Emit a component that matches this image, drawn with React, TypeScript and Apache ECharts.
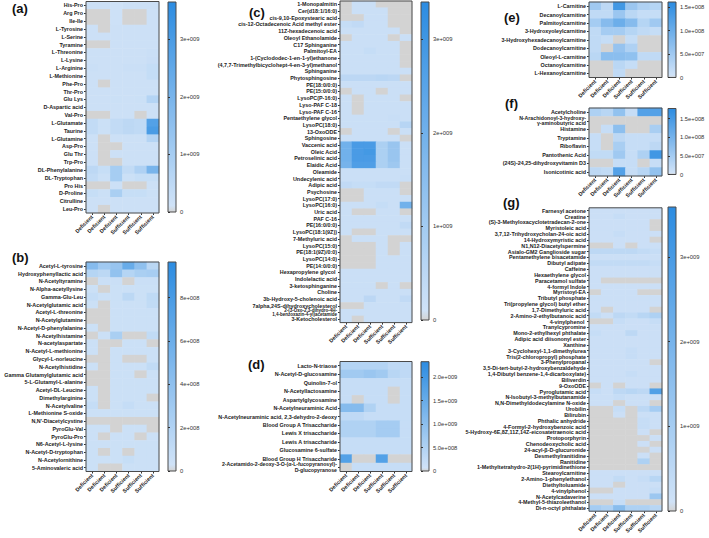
import { useEffect, useRef } from "react";
import * as echarts from "echarts";

// Sample groups (columns of every heatmap)
const COLS = ["Deficient", "Deficient", "Deficient", "Sufficient", "Sufficient", "Sufficient"];

// (a) amino acids & dipeptides, values in units of 1e8
const aRows = ["His-Pro", "Arg Pro", "Ile-Ile", "L-Tyrosine", "L-Serine", "Tyramine", "L-Threonine", "L-Lysine", "L-Arginine", "L-Methionine", "Phe-Pro", "Thr-Pro", "Glu Lys", "D-Aspartic acid", "Val-Pro", "L-Glutamate", "Taurine", "L-Glutamine", "Asp-Pro", "Glu Thr", "Trp-Pro", "DL-Phenylalanine", "DL-Tryptophan", "Pro His", "D-Proline", "Citrulline", "Leu-Pro"];
const aValues = [
  [1.8, 1.8, 1.2, 1.8, 1.8, 1.8],
  [0, 0, 1.5, 0, 0, 1.8],
  [0, 0, 1.5, 0, 0, 1.8],
  [1.8, 0, 1.8, 1.8, 1.8, 1.8],
  [1.8, 1.8, 1.8, 1.8, 1.8, 1.8],
  [0, 0, 1.8, 1.8, 1.8, 1.8],
  [1.8, 1.8, 1.8, 1.8, 1.8, 2.2],
  [1.8, 1.8, 1.8, 1.8, 1.8, 2.5],
  [2.2, 1.8, 1.8, 2.2, 2.2, 3.5],
  [1.8, 1.8, 1.8, 1.8, 1.8, 3.5],
  [1.8, 0, 1.8, 1.8, 1.8, 1.8],
  [1.8, 1.8, 1.8, 1.8, 1.8, 1.8],
  [1.8, 1.8, 2, 1.8, 2, 7],
  [1.8, 1.8, 1.8, 1.8, 1.8, 1.8],
  [0, 0, 1.8, 1.8, 0, 1.8],
  [4, 2, 4, 5, 4.5, 28],
  [4, 2, 4, 5, 4.5, 30],
  [1.8, 0, 1.8, 1.8, 1.8, 7],
  [1.8, 0, 0, 1.8, 1.8, 1.8],
  [1.8, 0, 1.8, 1.8, 1.8, 1.8],
  [1.8, 0, 0, 1.8, 1.8, 1.8],
  [5, 3, 10, 4, 8, 20],
  [4, 2, 10, 2, 3, 3],
  [0, 0, 1.8, 0, 0, 1.8],
  [3, 2, 9, 3, 3, 2],
  [1.8, 1.8, 1.8, 1.8, 1.8, 1.8],
  [1.8, 0, 1.8, 1.8, 1.8, 1.8],
];

// (b) acetylated / modified amino acids, units of 1e7
const bRows = ["Acetyl-L-tyrosine", "Hydroxyphenyllactic acid", "N-Acetyltyramine", "N-Alpha-acetyllysine", "Gamma-Glu-Leu", "N-Acetylglutamic acid", "Acetyl-L-threonine", "N-Acetylglutamine", "N-Acetyl-D-phenylalanine", "N-Acetylhistamine", "N-acetylaspartate", "N-Acetyl-L-methionine", "Glycyl-L-norleucine", "N-Acetylhistidine", "Gamma Glutamylglutamic acid", "5-L-Glutamyl-L-alanine", "Acetyl-DL-Leucine", "Dimethylarginine", "N-Acetylvaline", "L-Methionine S-oxide", "N,N'-Diacetylcystine", "PyroGlu-Val", "PyroGlu-Pro", "N6-Acetyl-L-lysine", "N-Acetyl-D-tryptophan", "N-Acetylornithine", "5-Aminovaleric acid"];
const bValues = [
  [45, 30, 35, 62, 40, 15],
  [18, 14, 38, 18, 24, 26],
  [0, 6, 6, 0, 6, 6],
  [5, 0, 5, 5, 5, 5],
  [9, 5, 5, 14, 5, 12],
  [5, 0, 5, 5, 5, 11],
  [0, 0, 5, 5, 5, 5],
  [0, 0, 5, 5, 5, 5],
  [5, 0, 5, 5, 5, 5],
  [0, 5, 24, 0, 0, 11],
  [5, 0, 0, 5, 5, 0],
  [5, 0, 5, 5, 5, 5],
  [0, 0, 5, 0, 0, 5],
  [5, 0, 5, 5, 5, 11],
  [0, 0, 5, 5, 0, 5],
  [0, 0, 5, 5, 5, 5],
  [5, 0, 5, 5, 5, 5],
  [5, 0, 5, 5, 5, 0],
  [9, 0, 5, 9, 5, 5],
  [5, 5, 5, 5, 5, 5],
  [0, 0, 0, 0, 0, 0],
  [5, 5, 0, 5, 5, 0],
  [5, 0, 5, 5, 0, 5],
  [5, 5, 5, 5, 5, 5],
  [5, 0, 5, 0, 5, 5],
  [5, 5, 5, 8, 5, 5],
  [5, 0, 0, 5, 5, 5],
];

// (c) lipids, units of 1e8
const cRows = ["1-Monopalmitin", "Cer(d18:1/16:0)", "cis-9,10-Epoxystearic acid", "cis-12-Octadecenoic Acid methyl ester", "11Z-hexadecenoic acid", "Oleoyl Ethanolamide", "C17 Sphinganine", "Palmitoyl-EA", "1-(Cyclododec-1-en-1-yl)ethanone", "(4,7,7-Trimethylbicyclohept-4-en-3-yl)methanol", "Sphinganine", "Phytosphingosine", "PE(18:0/0:0)", "PE(15:0/0:0)", "LysoPC(P-16:0)", "Lyso-PAF C-18", "Lyso-PAF C-16", "Pentaethylene glycol", "LysoPC(18:0)", "13-OxoODE", "Sphingosine", "Vaccenic acid", "Oleic Acid", "Petroselinic acid", "Elaidic Acid", "Oleamide", "Undecylenic acid", "Adipic acid", "Psychosine", "LysoPC(17:0)", "LysoPC(16:0)", "Uric acid", "PAF C-16", "PE(16:0/0:0)", "LysoPC(18:1(9Z))", "7-Methyluric acid", "LysoPC(15:0)", "PE(18:1(9Z)/0:0)", "LysoPC(14:0)", "PE(14:0/0:0)", "Hexapropylene glycol ", "Indolelactic acid", "3-ketosphinganine", "Choline", "3b-Hydroxy-5-cholenoic acid", "7alpha,24S-dihydroxycholesterol", "2-(3-Oxo-2,3-dihydro-4H-\n1,4-benzoxazin-4-yl)acetamide", "3-Ketocholesterol"];
const cValues = [
  [0, 2, 2, 0, 0, 0],
  [0, 2, 2, 2, 0, 0],
  [0, 0, 2, 2, 0, 0],
  [3, 4, 2, 2, 0, 0],
  [2, 2, 2, 2, 2, 0],
  [0, 2, 2, 2, 0, 2],
  [2, 2, 2, 2, 2, 0],
  [2, 2, 3, 2, 2, 0],
  [2, 2, 2, 2, 2, 0],
  [2, 2, 2, 2, 2, 0],
  [2, 2, 2, 2, 2, 2],
  [5, 5, 5, 5.5, 5, 0],
  [2, 2, 2, 2, 2, 2],
  [0, 2, 2, 0, 2, 2],
  [2, 0, 2, 2, 2, 0],
  [2, 0, 2, 2, 2, 2],
  [2, 0, 2, 2, 2, 2],
  [2, 2, 2, 2, 2.5, 2],
  [2, 2, 2, 2, 2, 6],
  [0, 2, 2, 2, 0, 2],
  [2, 2, 2, 2, 2, 0],
  [20, 28, 28, 8, 12, 2],
  [20, 28, 29, 8, 12, 2],
  [20, 28, 28, 8, 12, 2],
  [19, 27, 27, 8, 11, 2],
  [2, 2, 2, 2, 2, 2],
  [2, 2, 2, 2, 2, 2.5],
  [4, 3, 3, 4, 4, 0],
  [0, 0, 2, 2, 2, 0],
  [0, 0, 2, 2, 2, 2],
  [2, 2, 2, 3, 2, 20],
  [2, 0, 0, 2, 2, 0],
  [2, 2, 2, 2, 2, 2],
  [2, 2, 2, 2, 2, 4],
  [2, 0, 0, 2, 2, 2],
  [0, 2, 2, 2, 0, 0],
  [0, 0, 0, 2, 0, 2],
  [0, 0, 0, 2, 0, 2],
  [0, 0, 0, 2, 2, 2],
  [0, 0, 0, 2, 2, 2],
  [2, 2, 2, 2, 2, 2],
  [2, 2, 2, 2, 2, 2],
  [2, 2, 2, 0, 2, 0],
  [2, 2, 2, 2, 2, 2],
  [2, 2, 5, 2, 2, 4],
  [0, 0, 2, 2, 2, 2],
  [2, 2, 2, 2, 2, 2],
  [2, 0, 2, 2, 2, 2],
];

// (d) carbohydrates, units of 1e8
const dRows = ["Lacto-N-triaose", "N-Acetyl-D-glucosamine", "Quinolin-7-ol", "N-Acetyllactosamine", "Aspartylglycosamine", "N-Acetylneuraminic Acid", "N-Acetylneuraminic acid, 2,3-dehydro-2-deoxy", "Blood Group A Trisaccharide", "Lewis X trisaccharide", "Lewis A trisaccharide", "Glucosamine 6-sulfate", "Blood Group H Trisaccharide", "2-Acetamido-2-deoxy-3-O-(α-L-fucopyranosyl)-\nD-glucopyranose"];
const dValues = [
  [4.5, 4.5, 4.5, 4.5, 3, 3],
  [7, 7, 8, 7, 4, 3],
  [2, 2, 2, 2, 2, 2],
  [2, 2, 2, 2, 0, 2],
  [2, 0, 2, 2, 0, 2],
  [11, 11, 5, 2, 2, 2],
  [3, 3, 2, 2, 2, 2],
  [5, 5, 5, 6.5, 6.5, 2],
  [5, 5, 5, 6.5, 6.5, 2],
  [2, 2, 2, 2, 2, 2],
  [2, 2, 2, 2, 2, 2],
  [18, 0, 0, 18, 0, 0],
  [0, 2, 2, 2, 2, 2],
];

// (e) acylcarnitines, units of 1e6
const eRows = ["L-Carnitine", "Decanoylcarnitine", "Palmitoylcarnitine", "3-Hydroxyoleylcarnitine", "3-Hydroxyhexadecanoylcarnitine", "Dodecanoylcarnitine", "Oleoyl-L-carnitine", "Octanoylcarnitine", "L-Hexanoylcarnitine"];
const eValues = [
  [50, 22, 140, 55, 35, 30],
  [20, 20, 55, 25, 15, 15],
  [45, 75, 100, 75, 30, 50],
  [20, 45, 45, 30, 20, 15],
  [20, 15, 0, 15, 0, 0],
  [20, 0, 60, 35, 0, 0],
  [25, 70, 70, 65, 20, 20],
  [0, 0, 25, 15, 0, 0],
  [0, 0, 20, 0, 0, 0],
];

// (f) amines & vitamins, units of 1e6
const fRows = ["Acetylcholine", "N-Arachidonoyl-3-hydroxy-\nγ-aminobutyric acid", "Histamine", "Tryptamine", "Riboflavin", "Pantothenic Acid", "(24S)-24,25-dihydroxyvitamin D3", "Isonicotinic acid"];
const fValues = [
  [40, 30, 70, 15, 135, 135],
  [0, 0, 0, 0, 0, 0],
  [0, 15, 75, 0, 0, 45],
  [15, 0, 25, 15, 15, 15],
  [15, 0, 45, 15, 15, 25],
  [20, 20, 55, 15, 40, 155],
  [0, 0, 15, 15, 0, 15],
  [25, 20, 135, 15, 30, 70],
];

// (g) other compounds, units of 1e8
const gRows = ["Farnesyl acetone", "Creatine", "(S)-3-Methyloxacyclotetradecan-2-one", "Myristoleic acid", "3,7,12-Trihydroxycholan-24-oic acid", "14-Hydroxymyristic acid", "N1,N12-Diacetylspermine", "Asialo-GM2 Ganglioside sugar", "Pentamethylene bisacetamide", "Dibutyl adipate", "Caffeine", "Hexaethylene glycol", "Paracetamol sulfate", "4-formyl Indole", "Myristoyl-EA", "Tributyl phosphate", "Tri(propylene glycol) butyl ether", "1,7-Dimethyluric acid", "2-Amino-2-ethylbutanoic acid", "4-vinylphenol ", "Tranylcypromine", "Mono-2-ethylhexyl phthalate", "Adipic acid diisononyl ester", "Xanthine", "3-Cyclohexyl-1,1-dimethylurea", "Tris(2-chloropropyl) phosphate", "3-Phenylpropanal", "3,5-Di-tert-butyl-2-hydroxybenzaldehyde", "1,4-Dibutyl benzene-1,4-dicarboxylate)", "Biliverdin", "9-OxoODE", "Pyroglutamic acid", "N-Isobutyl-3-methylbutanamide", "N,N-Dimethyldodecylamine N-oxide", "Urobilin", "Bilirubin", "Phthalic anhydride", "4-Formyl-2-hydroxybenzoic acid", "5-Hydroxy-6E,8Z,11Z,14Z-eicosatetraenoic acid", "Protoporphyrin", "Chenodeoxycholic acid", "24-acyl-β-D-glucuronide", "Desmethylranitidine", "Ranitidine", "1-Methyltetrahydro-2(1H)-pyrimidinethione", "Stearoylcarnitine", "2-Amino-1-phenylethanol", "Diethyltoluamide", "4-vinylphenol", "N-Acetylcadaverine", "4-Methyl-5-thiazoleethanol", "Di-n-octyl phthalate"];
const gValues = [
  [2, 2, 2, 2, 2, 2],
  [2, 2, 3, 2, 2, 2],
  [2, 2, 2, 2, 2, 0],
  [2, 2, 2, 2, 2, 0],
  [2, 2, 3, 2, 2, 2],
  [2, 2, 2, 2, 2, 0],
  [0, 0, 2, 0, 2, 2],
  [5, 5, 5, 5, 4, 3],
  [2, 2, 2, 2, 2, 2],
  [4, 4, 4, 4, 4, 3],
  [2, 2, 2, 2, 2, 2],
  [2, 2, 2, 2, 2, 2],
  [2, 0, 0, 0, 0, 0],
  [2, 2, 2, 2, 2, 2],
  [0, 2, 2, 2, 0, 0],
  [2, 2, 2, 2, 2, 2],
  [2, 2, 2, 2, 2, 2],
  [2, 0, 2, 2, 2, 0],
  [4, 2, 5, 4, 6, 8],
  [0, 0, 3, 2, 2, 3],
  [2, 2, 2, 2, 2, 2],
  [3, 2, 2, 5, 2, 2],
  [2, 2, 2, 2, 2, 2],
  [2, 2, 2, 2, 2, 2],
  [2, 2, 2, 3, 2, 2],
  [2, 2, 2, 3, 2, 2],
  [2, 2, 2, 2, 2, 0],
  [2, 2, 2, 2, 2, 2],
  [2, 2, 2, 3, 2, 2],
  [2, 2, 2, 2, 2, 2],
  [0, 2, 0, 2, 2, 0],
  [3, 2, 5, 6, 5, 28],
  [2, 2, 3, 2, 2, 2],
  [2, 2, 0, 2, 2, 0],
  [0, 0, 3, 0, 5, 10],
  [0, 0, 2, 0, 2, 2],
  [0, 0, 0, 0, 3, 2],
  [0, 0, 0, 0, 3, 2],
  [0, 0, 0, 0, 2, 0],
  [0, 0, 0, 0, 0, 2],
  [0, 0, 0, 0, 2, 0],
  [0, 0, 0, 0, 0, 2],
  [0, 0, 0, 0, 2, 0],
  [0, 0, 0, 0, 8, 0],
  [0, 0, 0, 0, 0, 0],
  [2, 2, 2, 2, 2, 2],
  [2, 2, 4, 2, 3, 6],
  [2, 2, 0, 2, 2, 2],
  [0, 0, 2, 2, 2, 3],
  [2, 2, 2, 2, 2, 12],
  [0, 0, 3, 0, 0, 0],
  [10, 8, 16, 8, 8, 6],
];

// Color-scale extents (same units as the values above) and tick steps
const scaleMax = { a: 36.5, b: 96.5, c: 34, d: 23.3, e: 161, f: 177, g: 35.9 };
const scaleStep = { a: 10, b: 20, c: 10, d: 5, e: 50, f: 50, g: 10 };
const scaleExp = { a: 8, b: 7, c: 8, d: 8, e: 6, f: 6, g: 8 };
const scaleDecimals = { a: 0, b: 0, c: 0, d: 1, e: 1, f: 1, g: 0 };

const PANELS = [
  { key: "a", rows: aRows, values: aValues },
  { key: "b", rows: bRows, values: bValues },
  { key: "c", rows: cRows, values: cValues },
  { key: "d", rows: dRows, values: dValues },
  { key: "e", rows: eRows, values: eValues },
  { key: "f", rows: fRows, values: fValues },
  { key: "g", rows: gRows, values: gValues },
];

// Pixel layout: heatmap box, colour-bar box, panel tag position, wrapped-label style
const LAYOUT: Record<string, { heat: number[]; bar: number[]; tag: number[]; wrap: number[] }> = {
  a: { heat: [86, 1.5, 73, 211.5], bar: [168, 2, 8, 210], tag: [12, 2], wrap: [5.4, 5.8] },
  b: { heat: [86, 262, 73, 209.5], bar: [168, 262, 8, 209], tag: [12, 250.5], wrap: [5.4, 5.8] },
  c: { heat: [340, 1, 72, 321.6], bar: [421, 2, 8, 318], tag: [249, 5.5], wrap: [4.5, 4.3] },
  d: { heat: [340, 361.5, 72, 110], bar: [421, 361.7, 8, 109.3], tag: [248, 357.5], wrap: [5.2, 6] },
  e: { heat: [589, 2, 73, 75.5], bar: [668, 2, 8, 75.5], tag: [504, 10.5], wrap: [5.4, 5.8] },
  f: { heat: [589, 108, 73, 68], bar: [668, 108.5, 8, 66], tag: [505, 96.5], wrap: [5.2, 5.2] },
  g: { heat: [589, 207.8, 73, 303.4], bar: [668, 207, 8, 304], tag: [503, 195.5], wrap: [5.4, 5.8] },
};

const FONT = "'Liberation Sans', Arial, sans-serif";
const GREY = "#d3d3d3";
const PALE = [207, 226, 247];
const DEEP = [44, 140, 225];

function buildRamp(): string[] {
  const out = [GREY];
  const n = 32;
  for (let i = 0; i <= n; i++) {
    const t = i / n;
    const c = PALE.map((p, k) => Math.round(p + (DEEP[k] - p) * t));
    out.push(`rgb(${c.join(",")})`);
  }
  return out;
}

function sciLabel(v: number, step: number, exp: number, dec: number): string {
  if (v === 0) return "0";
  const r = v / step;
  if (Math.abs(r - Math.round(r)) > 1e-6) return "";
  const real = v * Math.pow(10, exp);
  const e = Math.floor(Math.log10(real) + 1e-9);
  const m = real / Math.pow(10, e);
  return `${m.toFixed(dec)}e+${String(e).padStart(3, "0")}`;
}

function buildOption() {
  const ramp = buildRamp();
  const gradient = {
    type: "linear",
    x: 0,
    y: 1,
    x2: 0,
    y2: 0,
    colorStops: ramp.map((c, i) => ({ offset: i / (ramp.length - 1), color: c })),
  };
  const grid: any[] = [];
  const xAxis: any[] = [];
  const yAxis: any[] = [];
  const series: any[] = [];
  const visualMap: any[] = [];
  const graphic: any[] = [];

  PANELS.forEach((p) => {
    const key = p.key as keyof typeof scaleMax;
    const L = LAYOUT[p.key];
    const max = scaleMax[key];
    const step = scaleStep[key];
    const exp = scaleExp[key];
    const dec = scaleDecimals[key];

    const gi = grid.length;
    grid.push({
      left: L.heat[0], top: L.heat[1], width: L.heat[2], height: L.heat[3],
      show: true, borderColor: "#4a4a4a", borderWidth: 1, backgroundColor: "transparent", z: 10,
    });
    xAxis.push({
      type: "category", gridIndex: gi, data: COLS,
      axisLine: { show: false },
      axisTick: { show: true, alignWithLabel: true, length: 2, lineStyle: { color: "#333" } },
      axisLabel: { interval: 0, rotate: 45, fontSize: 5.4, fontWeight: "bold", color: "#222", fontFamily: FONT, margin: 3 },
      splitLine: { show: false },
    });
    yAxis.push({
      type: "category", gridIndex: gi, data: p.rows, inverse: true,
      axisLine: { show: false },
      axisTick: { show: true, alignWithLabel: true, length: 2, lineStyle: { color: "#333" } },
      axisLabel: {
        interval: 0, fontSize: 5.4, fontWeight: "bold", color: "#222", fontFamily: FONT, margin: 3,
        formatter: (v: string) =>
          v.includes("\n") ? v.split("\n").map((s) => `{w|${s}}`).join("\n") : v,
        rich: {
          w: {
            fontSize: L.wrap[0], lineHeight: L.wrap[1], fontWeight: "bold",
            color: "#222", fontFamily: FONT, align: "right",
          },
        },
      },
      splitLine: { show: false },
    });
    const data: number[][] = [];
    p.values.forEach((row, r) => row.forEach((v, c) => data.push([c, r, v])));
    series.push({
      type: "heatmap", xAxisIndex: gi, yAxisIndex: gi, data,
      itemStyle: { borderWidth: 0 }, emphasis: { disabled: true }, progressive: 0,
    });
    visualMap.push({
      type: "continuous", show: false, seriesIndex: series.length - 1,
      min: 0, max, dimension: 2, inRange: { color: ramp },
    });

    const ci = grid.length;
    grid.push({
      left: L.bar[0], top: L.bar[1], width: L.bar[2], height: L.bar[3],
      show: true, backgroundColor: gradient, borderColor: "#4a4a4a", borderWidth: 1,
    });
    xAxis.push({ type: "value", gridIndex: ci, show: false, min: 0, max: 1 });
    yAxis.push({
      type: "value", gridIndex: ci, min: 0, max, interval: step, position: "right",
      axisLine: { show: false },
      axisTick: { show: true, length: 2, lineStyle: { color: "#333" } },
      axisLabel: {
        fontSize: 5.8, color: "#333", fontFamily: FONT, margin: 4, showMaxLabel: false,
        formatter: (v: number) => sciLabel(v, step, exp, dec),
      },
      splitLine: { show: false },
    });

    graphic.push({
      type: "text", left: L.tag[0], top: L.tag[1],
      style: { text: `(${p.key})`, font: `bold 13px ${FONT}`, fill: "#111" },
    });
  });

  return { animation: false, backgroundColor: "#ffffff", grid, xAxis, yAxis, series, visualMap, graphic };
}

export default function App() {
  const ref = useRef<HTMLDivElement>(null);
  useEffect(() => {
    if (!ref.current) return;
    const chart = echarts.init(ref.current, undefined, { renderer: "svg" });
    chart.setOption(buildOption() as any);
    return () => chart.dispose();
  }, []);
  return (
    <div
      ref={ref}
      style={{ position: "absolute", left: 0, top: 0, width: 709, height: 538, background: "#fff" }}
    />
  );
}
